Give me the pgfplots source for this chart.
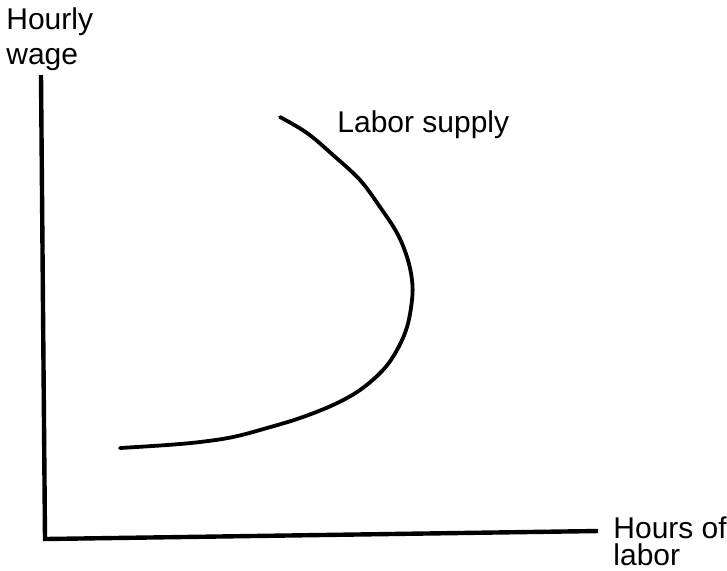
\documentclass[border=0pt]{standalone}
\usepackage{pgfplots}
\pgfplotsset{compat=1.18}
\usepackage{fontspec}
\setmainfont{Liberation Sans}
\begin{document}
\begin{tikzpicture}
\begin{axis}[
  name=ax,
  scale only axis,
  width=363.5pt, height=285pt,
  xmin=0, xmax=727, ymin=0, ymax=570,
  y dir=reverse,
  axis line style={draw=none},
  ticks=none,
  clip=false,
]
% axes
\addplot[black, line width=2.2pt, line join=miter] coordinates {(41,75) (45,539) (598,531)};
% labour supply curve
\addplot[black, line width=1.9pt, smooth, tension=0.6, line cap=round] coordinates {
(280,117) (307,133) (333,155) (360,180) (380,207) (397,233) (407,257) (412,280)
(412,300) (407,327) (397,350) (383,370) (360,390) (333,405) (300,418) (267,428)
(233,437) (200,442) (167,445) (120,448)};
\node[anchor=base west, inner sep=0pt, align=left, font=\fontsize{15}{17.5}\selectfont] at (axis cs:6,64) {Hourly\\wage};
\node[anchor=base west, inner sep=0pt, font=\fontsize{15}{17}\selectfont] at (axis cs:337,132) {Labor supply};
\node[anchor=base west, inner sep=0pt, align=left, font=\fontsize{15}{13.5}\selectfont] at (axis cs:613,565) {Hours of\\labor};
\coordinate (bl) at (axis cs:0,570);
\coordinate (tr) at (axis cs:727,0);
\end{axis}
\pgfresetboundingbox
\path (bl) rectangle (tr);
\end{tikzpicture}
\end{document}
